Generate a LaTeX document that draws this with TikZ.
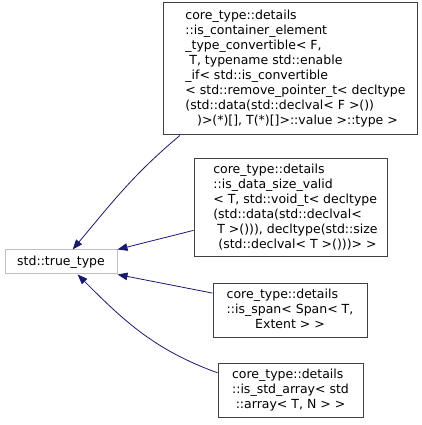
\documentclass[tikz,border=0pt]{standalone}
\usepackage{fontspec}
\setmainfont{DejaVu Sans}
\usetikzlibrary{arrows.meta}
\definecolor{edgeblue}{RGB}{25,25,112}
\definecolor{boxgray}{RGB}{64,64,64}
\definecolor{extgray}{RGB}{191,191,191}
% optional argument: extra indent of the text inside the box
\newcommand{\clslines}[2][0pt]{\hspace*{#1}\begin{tabular}{@{}l@{}}#2\end{tabular}}
\newcommand{\lastline}[1]{\multicolumn{1}{@{}c@{}}{#1}}
\begin{document}
\begin{tikzpicture}[x=1pt, y=1pt,
    every node/.style={font=\fontsize{12.5}{15}\selectfont, inner xsep=2pt, inner ysep=0pt},
    cls/.style={draw=boxgray, line width=1pt, fill=white},
    extcls/.style={draw=extgray, line width=1pt, fill=white},
    inherit/.style={draw=edgeblue, line width=0.8pt, -{Triangle[length=10pt, width=7.5pt, fill=edgeblue]}}]
    \useasboundingbox (0,0) rectangle (421,425);

    % base class on the left
    \node[extcls, minimum width=112pt, minimum height=24pt] (base) at (61,163) {std::true\_type};

    % derived templates on the right
    \node[cls, minimum width=254pt, minimum height=132pt] (cont) at (290.5,356) {\clslines[10pt]{%
        core\_type::details\\
        ::is\_container\_element\\
        \_type\_convertible< F,\\
        \ T, typename std::enable\\
        \_if< std::is\_convertible\\
        < std::remove\_pointer\_t< decltype\\
        (std::data(std::declval< F >())\\
        \lastline{\ )>(*){[}{]}, T(*){[}{]}>::value >::type >}}};
    \node[cls, minimum width=193pt, minimum height=98pt] (size) at (290.5,217) {\clslines[10pt]{%
        core\_type::details\\
        ::is\_data\_size\_valid\\
        < T, std::void\_t< decltype\\
        (std::data(std::declval<\\
        \ T >())), decltype(std::size\\
        \lastline{\ (std::declval< T >()))> >}}};
    \node[cls, minimum width=154pt, minimum height=54pt] (span) at (290,114) {\clslines{%
        core\_type::details\\
        ::is\_span< Span< T,\\
        \lastline{Extent > >}}};
    \node[cls, minimum width=145pt, minimum height=54pt] (arr) at (290.5,34) {\clslines{%
        core\_type::details\\
        ::is\_std\_array< std\\
        \lastline{::array< T, N > >}}};

    % inheritance arrows
    \draw[inherit] (cont.211) to[out=220, in=50] (base.47);
    \draw[inherit] (size.193) -- (base.north east);
    \draw[inherit] (span.167) -- (base.south east);
    \draw[inherit] (arr.166) to[out=160, in=-45] (base.-37);
\end{tikzpicture}
\end{document}
